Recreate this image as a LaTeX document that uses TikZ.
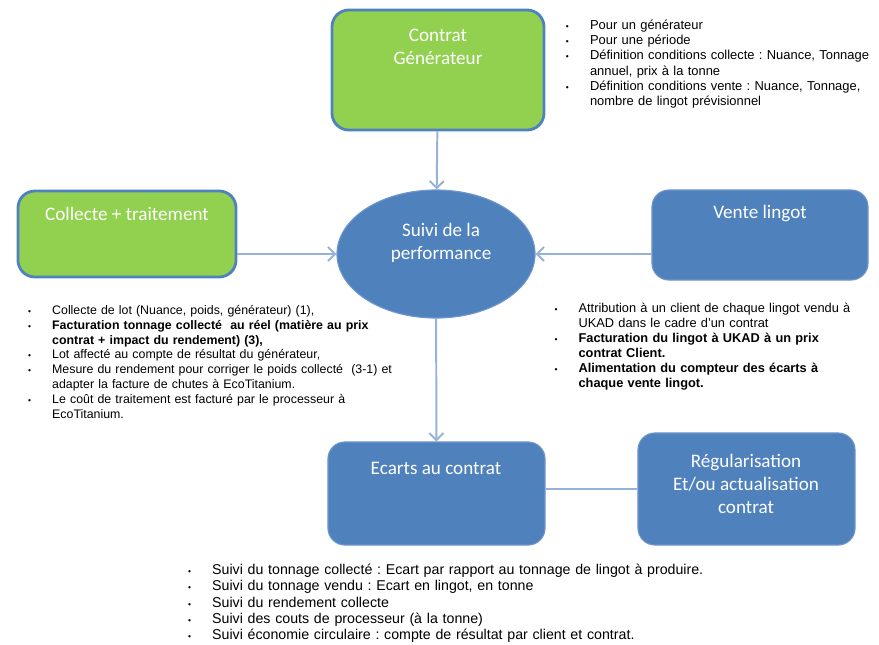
\documentclass[tikz,border=0pt]{standalone}
\usepackage{fontspec}
\setmainfont{Liberation Sans}
\newfontfamily\boxfont{Carlito}
\usepackage{enumitem}
\setlist[itemize]{nosep, label={\fontsize{6}{6}\selectfont\textbullet}, labelsep=15pt}
\usetikzlibrary{shapes.geometric, arrows.meta, positioning}
\frenchspacing

\definecolor{vertgen}{RGB}{146,208,80}
\definecolor{bleuboite}{RGB}{79,129,189}
\definecolor{bleubord}{RGB}{110,150,205}
\definecolor{bleufleche}{RGB}{149,179,215}

\tikzset{
  boite/.style={rectangle, rounded corners=12pt, inner sep=0pt},
  boiteverte/.style={boite, fill=vertgen, draw=bleuboite, line width=2pt},
  boitebleue/.style={boite, fill=bleuboite, draw=bleubord, line width=0.8pt},
  titre/.style={font=\boxfont\fontsize{13.6}{16.2}\selectfont, text=white, align=center},
  liste/.style={font=\fontsize{9}{10.8}\selectfont, text width=#1, inner sep=0pt, anchor=north west, align=left},
  liste/.default=8cm,
  fleche/.style={draw=bleufleche, line width=1.4pt, -{Straight Barb[length=5pt,width=10pt]}},
}

\begin{document}
\begin{tikzpicture}[x=0.025cm, y=-0.025cm]
  \useasboundingbox (0,0) rectangle (879,644);
  % boites
  \node[boiteverte, minimum width=5.3cm, minimum height=3cm] (gen) at (438,70) {};
  \node[boiteverte, minimum width=5.45cm, minimum height=2.15cm] (coll) at (127,234) {};
  \node[ellipse, fill=bleuboite, draw=bleubord, line width=0.8pt, minimum width=4.95cm, minimum height=3.2cm] (suivi) at (436,254) {};
  \node[boitebleue, minimum width=5.4cm, minimum height=2.25cm] (vente) at (760,235) {};
  \node[boitebleue, minimum width=5.425cm, minimum height=2.575cm] (ecarts) at (436.5,493.5) {};
  \node[boitebleue, minimum width=5.425cm, minimum height=2.8cm] (regul) at (746.5,489) {};
  % titres
  \node[titre] (genT) at (438,47) {Contrat\\Générateur};
  \node[titre] (collT) at (127,214) {Collecte + traitement};
  \node[titre] (suiviT) at (441,243) {Suivi de la\\performance};
  \node[titre] (venteT) at (760,214) {Vente lingot};
  \node[titre] (ecartsT) at (436,468) {Ecarts au contrat};
  \node[titre] (regulT) at (746,484) {Régularisation\\Et/ou actualisation\\contrat};
  % liaisons
  \draw[fleche] (gen) -- (suivi);
  \draw[fleche] (coll.east |- suivi.west) -- (suivi.west);
  \draw[fleche] (vente.west |- suivi.east) -- (suivi.east);
  \draw[fleche] (suivi) -- (ecarts);
  \draw[draw=bleufleche, line width=1.4pt] (ecarts.east |- regul.west) -- (regul.west);
  % listes
  \node[liste=7.9cm, font=\fontsize{9.2}{10.8}\selectfont] (genL) at (563,14) {%
    \begin{itemize}[leftmargin=19pt]
      \item Pour un générateur
      \item Pour une période
      \item Définition conditions collecte : Nuance, Tonnage\newline annuel, prix à la tonne
      \item Définition conditions vente : Nuance, Tonnage,\newline nombre de lingot prévisionnel
    \end{itemize}};
  \node[liste=9.5cm, font=\fontsize{8.8}{10.6}\selectfont] (collL) at (28,299) {%
    \begin{itemize}[leftmargin=17pt]
      \item Collecte de lot (Nuance, poids, générateur) (1),
      \item \textbf{Facturation tonnage collecté\ \ au réel (matière au prix\newline contrat + impact du rendement) (3),}
      \item Lot affecté au compte de résultat du générateur,
      \item Mesure du rendement pour corriger le poids collecté\ \ (3-1) et\newline adapter la facture de chutes à EcoTitanium.
      \item Le coût de traitement est facturé par le processeur à\newline EcoTitanium.
    \end{itemize}};
  \node[liste=8.2cm, font=\fontsize{9.1}{10.7}\selectfont] (venteL) at (553,297) {%
    \begin{itemize}[leftmargin=18pt]
      \item Attribution à un client de chaque lingot vendu à\newline UKAD dans le cadre d'un contrat
      \item \textbf{Facturation du lingot à UKAD à un prix\newline contrat Client.}
      \item \textbf{Alimentation du compteur des écarts à\newline chaque vente lingot.}
    \end{itemize}};
  \node[liste=13.8cm, font=\fontsize{10.1}{11.6}\selectfont] (ecartsL) at (188,558) {%
    \begin{itemize}[leftmargin=17pt]
      \item Suivi du tonnage collecté : Ecart par rapport au tonnage de lingot à produire.
      \item Suivi du tonnage vendu : Ecart en lingot, en tonne
      \item Suivi du rendement collecte
      \item Suivi des couts de processeur (à la tonne)
      \item Suivi économie circulaire : compte de résultat par client et contrat.
    \end{itemize}};
\end{tikzpicture}
\end{document}
